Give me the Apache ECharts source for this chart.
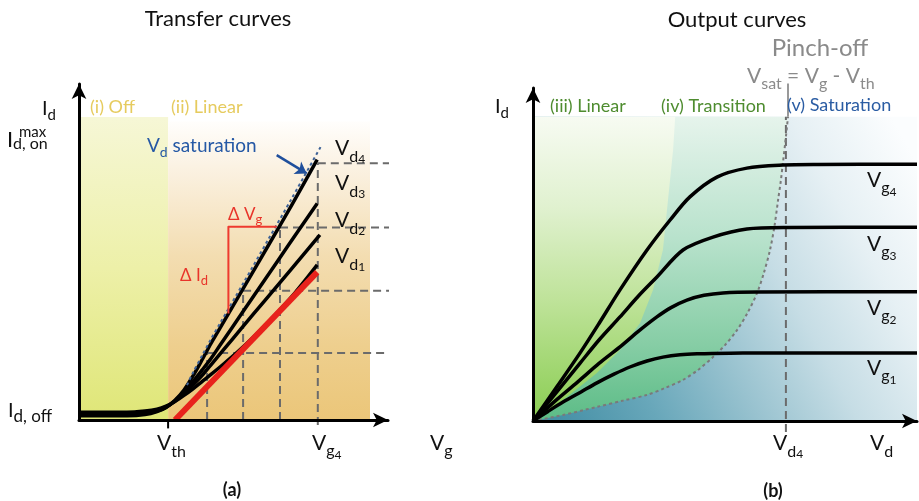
<!DOCTYPE html>
<html><head><meta charset="utf-8">
<script src="https://cdn.jsdelivr.net/npm/echarts@6/dist/echarts.min.js"></script>
<style>html,body{margin:0;padding:0;background:#fff}#c{width:919px;height:501px}</style>
</head><body><div id="c"></div>
<script>
// ---------- DATA (transfer curves, panel a) ----------
const vth = 29.7;
const vgLevels = [42.7, 54.7, 67, 79.6];          // Vg1..Vg4 on the Vg axis
const idLevels = [22.3, 43.1, 64.2, 85.6];         // Id at (Vg_i, Vd4)
const connectorEnds = [211, 226, 233, 235];        // where the Id levels meet pinch-off in panel b
const idOnMax = 94, idOff = 2.3;
const transferVd4 = [[0,1.4],[16,1.4],[22,1.8],[26,2.8],[29,4.2],[32,6.6],[35,10],[38,14.7],[41,20],[44,25.5],[47,30.6],[55,44.3],[63,58],[71,71.8],[79.4,86.8]];
const transferVd3 = [[0,1.8],[16,1.8],[22,2.2],[26,3],[29,4.2],[32,6.4],[35,9.4],[38,12.8],[41,16.6],[44,20.5],[47,24.9],[50.9,30.6],[58,41],[66,52.7],[73,62.9],[79.4,72.2]];
const transferVd2 = [[0,2.2],[16,2.2],[22,2.6],[26,3.3],[29,4.4],[32,6.3],[35,8.9],[38,11.7],[41,14.8],[44,18.4],[48,23.2],[54.2,30.6],[62,39.9],[70,49.4],[80.3,61.7]];
const transferVd1 = [[0,2.6],[16,2.6],[22,3],[26,3.6],[29,4.6],[32,6.2],[35,8.2],[38,10.4],[41,12.8],[44,15.2],[48,18.5],[53,22.8],[58,27.5],[64,33.6],[72,42.4],[79.4,51.7]];
const tangentLine = [[32,0],[79.4,49.3]];
const satEnvelope = [[36,11.6],[38,15.8],[41,21.4],[44,27],[47,32.2],[55,46],[63,60],[71,74],[80.8,91.5]];
const deltaBracket = [[49.8,35.5],[49.8,64.4],[65.9,64.4]];
const arrowCoords = [[65.9,88.3],[75.9,82.2]];
const offRegion = [[0,0],[vth,0],[vth,101],[0,101]];
const linearRegionA = [[vth,0],[97,0],[97,99.5],[vth,99.5]];

// ---------- DATA (output curves, panel b) ----------
const vd4 = 84.3;
const outputVg4 = [[0,0],[8,11.5],[15.7,22.7],[22,32.5],[29,43.7],[38,57],[45.7,67],[52.3,74.7],[61.3,81.3],[71.3,84.3],[83.3,85.3],[95,85.5],[128,85.6]];
const outputVg3 = [[0,0],[8,9.8],[15.7,19.3],[22,27],[29,34.7],[35,41.5],[41.3,48],[50,57],[60,61.3],[71.3,64],[85,64.5],[128,64.6]];
const outputVg2 = [[0,0],[8,7.2],[15.7,13.7],[22,19.2],[29,24.7],[35,29.8],[41.3,34.7],[46,37.8],[51.3,40.3],[57,41.9],[63.3,42.7],[74.7,43],[128,43.1]];
const outputVg1 = [[0,0],[5,3.2],[10,6.3],[16,9.7],[21.3,12.7],[27,15.6],[32.3,18],[38,20],[43.3,21.3],[49,22.1],[54.7,22.4],[70,22.7],[128,22.7]];
const pinchOff = [[0,0],[10,2],[21.3,4.7],[30,6.8],[38,8.7],[44,11],[50,13.7],[55,17],[60,21.3],[64,25.3],[68,30.3],[71.5,36],[74.7,42.7],[77,49.5],[79,57],[80.5,65],[81.7,73.7],[82.6,80],[83.3,86],[84,92],[85,101.4]];
const linearEdge = [[0,0],[10,7],[21.3,16],[29,23.7],[35.7,32.7],[40,43.7],[43.3,57],[45,73.7],[46.7,90.3],[47.4,101.4]];
const regionTop = 101.4, regionRight = 128;

// ---------- chart ----------
const chart = echarts.init(document.getElementById('c'), null, {renderer:'canvas'});
const LG = echarts.graphic.LinearGradient;
const FONT = 'Lato';
const mctx = document.createElement('canvas').getContext('2d');

function poly(gi, pts, fill, z) {
  return {type:'custom', coordinateSystem:'cartesian2d', xAxisIndex:gi, yAxisIndex:gi, data:[[0,0]], silent:true, z:z, clip:false,
    renderItem:(p, api) => ({type:'polygon', shape:{points: pts.map(q => api.coord(q))}, style:{fill: fill}})};
}
function line(gi, data, color, width, type, z, smooth) {
  return {type:'line', xAxisIndex:gi, yAxisIndex:gi, data:data, symbol:'none', silent:true, clip:false, z:z,
    smooth: smooth ? 0.3 : false,
    lineStyle:{color:color, width:width, type:type || 'solid', cap:'butt', join:'round'}};
}
// text run: parts [text, size, baselineOffset]
function run(x, base, parts, color, weight, align) {
  const els = []; let cx = x;
  const widths = parts.map(([t, s]) => { mctx.font = (weight||'normal') + ' ' + s + 'px ' + FONT; return mctx.measureText(t).width; });
  const total = widths.reduce((a,b)=>a+b,0);
  if (align === 'center') cx = x - total/2;
  parts.forEach(([t, s, off], i) => {
    els.push({type:'text', x:cx, y: base + (off||0) - 0.3*s, z:100, silent:true,
      style:{text:t, font:(weight||'normal') + ' ' + s + 'px ' + FONT, fill:color, align:'left', verticalAlign:'middle'}});
    cx += widths[i];
  });
  return els;
}
const K = '#111', GREY = '#8a8a8a';
const texts = [].concat(
  run(218, 26, [['Transfer curves',22,0]], K, 'normal', 'center'),
  run(737, 27, [['Output curves',22,0]], K, 'normal', 'center'),
  run(42, 115, [['I',20,0],['d',15,5]], K),
  run(7, 147, [['I',22,0]], K), run(13, 148.5, [['d, on',16,0]], K), run(19, 137, [['max',15,0]], K),
  run(8, 417, [['I',20,0],['d, off',17,5]], K),
  run(90, 113, [['(i) Off',18,0]], '#e6cb5e'),
  run(171, 113, [['(ii) Linear',18,0]], '#e6cb5e'),
  run(147, 152, [['V',19,0],['d',14,5],[' saturation',19,0]], '#2558a5'),
  run(335, 155, [['V',21,0],['d',16,7],['4',12,8]], K),
  run(335, 190, [['V',21,0],['d',16,7],['3',12,8]], K),
  run(335, 227, [['V',21,0],['d',16,7],['2',12,8]], K),
  run(335, 263, [['V',21,0],['d',16,7],['1',12,8]], K),
  run(228, 220, [['\u0394 V',17,0],['g',13,4]], '#e8342a'),
  run(180, 281, [['\u0394 I',17,0],['d',13,4]], '#e8342a'),
  run(157, 450, [['V',21,0],['th',16,7]], K),
  run(312, 450, [['V',21,0],['g',16,6],['4',12,9]], K),
  run(430, 450, [['V',21,0],['g',16,6]], K),
  run(232, 496, [['(a)',18,0]], K, 'bold', 'center'),
  run(773, 497, [['(b)',18,0]], K, 'bold', 'center'),
  run(495, 113, [['I',20,0],['d',15,5]], K),
  run(550, 112, [['(iii) Linear',18,0]], '#4e8c2f'),
  run(661, 112, [['(iv) Transition',18,0]], '#4e8c2f'),
  run(787, 111, [['(v) Saturation',18,0]], '#2a5ca3'),
  run(820, 55, [['Pinch-off',24,0]], GREY, 'normal', 'center'),
  run(747, 83, [['V',21,0],['sat',16,6],[' = V',21,0],['g',16,6],[' - V',21,0],['th',16,6]], GREY),
  run(867, 187, [['V',21,0],['g',16,6],['4',12,9]], K),
  run(867, 251, [['V',21,0],['g',16,6],['3',12,9]], K),
  run(867, 315, [['V',21,0],['g',16,6],['2',12,9]], K),
  run(867, 375, [['V',21,0],['g',16,6],['1',12,9]], K),
  run(773, 450, [['V',21,0],['d',16,7],['4',12,8]], K),
  run(870, 450, [['V',21,0],['d',16,7]], K)
);

const axisCommon = {axisLabel:{show:false}, axisTick:{show:false}, splitLine:{show:false}, z:5,
  axisLine:{show:true, onZero:false, symbol:['none','arrow'], symbolSize:[11,15], lineStyle:{color:'#000', width:3}}};
const DASH = [8,5], DG = '#6b6b6b';

const series = [
  // panel a backgrounds
  poly(0, offRegion, new LG(0,0,0,1,[{offset:0,color:'#f6f7d6'},{offset:0.5,color:'#edf0a8'},{offset:1,color:'#dfe677'}]), 1),
  poly(0, linearRegionA, new LG(0,0,0,1,[{offset:0,color:'#fffefc'},{offset:0.15,color:'#fbf2e3'},{offset:0.45,color:'#f3ddb1'},{offset:0.75,color:'#eecf8e'},{offset:1,color:'#ebc679'}]), 1),
  // panel b backgrounds
  poly(1, [[0,0],[regionRight,0],[regionRight,regionTop],[0,regionTop]], new LG(0,0.85,1,0.15,[{offset:0,color:'#4690a6'},{offset:0.2,color:'#68a7ba'},{offset:0.4,color:'#98c2cf'},{offset:0.6,color:'#c6dde5'},{offset:0.8,color:'#e6f0f4'},{offset:1,color:'#fbfdfe'}]), 1),
  poly(1, pinchOff.concat([[0,regionTop]]), new LG(0,0,0,1,[{offset:0,color:'#e6f4ec'},{offset:0.4,color:'#b8e2cc'},{offset:0.75,color:'#86cda5'},{offset:1,color:'#5cbc86'}]), 1),
  poly(1, linearEdge.concat([[0,regionTop]]), new LG(0,0,0,1,[{offset:0,color:'#f7fbf2'},{offset:0.3,color:'#e0f1cf'},{offset:0.6,color:'#bfe39a'},{offset:1,color:'#8acd52'}]), 1),
];
// dashed guides panel a + connectors
vgLevels.forEach((vg, i) => {
  series.push(line(0, [[vg, i === 3 ? -1.7 : 0],[vg, idLevels[i]]], DG, 2, DASH, 2));
  series.push(line(0, [[vg, idLevels[i]],[connectorEnds[i], idLevels[i]]], DG, 2, DASH, 2));
});
// ticks
series.push(line(0, [[-5.3, idOnMax],[0, idOnMax]], '#000', 2, 'solid', 6));
series.push(line(0, [[-5, idOff],[0, idOff]], '#000', 2, 'solid', 6));
series.push(line(0, [[vth, 0],[vth, -2.8]], '#000', 2, 'solid', 6));
// transfer curves
[transferVd1, transferVd2, transferVd3, transferVd4].forEach(d => series.push(line(0, d, '#000', 3.5, 'solid', 3, true)));
series.push(line(0, tangentLine, '#e8221c', 6, 'solid', 4));
series.push(line(0, satEnvelope, '#3d6196', 2, [3,3], 4, true));
series.push(line(0, deltaBracket, '#ee3a2f', 2, 'solid', 4));
series.push({type:'lines', coordinateSystem:'cartesian2d', xAxisIndex:0, yAxisIndex:0, z:4, silent:true,
  symbol:['none','arrow'], symbolSize:11, lineStyle:{color:'#1f4f9c', width:2.5, opacity:1},
  data:[{coords: arrowCoords}]});
// panel b guides
series.push(line(1, [[vd4,-3.7],[vd4,regionTop]], DG, 2, DASH, 2));
series.push(line(1, [[85,regionTop],[85,112.5]], '#777', 1.5, 'solid', 2));
series.push(line(1, pinchOff, '#7a7a7a', 2, [3,3], 2, true));
[outputVg1, outputVg2, outputVg3, outputVg4].forEach(d => series.push(line(1, d, '#000', 3.5, 'solid', 3, true)));

chart.setOption({
  animation:false,
  grid:[{left:79, top:84, width:309, height:336}, {left:533, top:88, width:384, height:333}],
  xAxis:[Object.assign({type:'value', gridIndex:0, min:0, max:103}, axisCommon),
         Object.assign({type:'value', gridIndex:1, min:0, max:128}, axisCommon)],
  yAxis:[Object.assign({type:'value', gridIndex:0, min:0, max:112}, axisCommon),
         Object.assign({type:'value', gridIndex:1, min:0, max:111}, axisCommon)],
  series: series,
  graphic: texts
});
</script></body></html>
